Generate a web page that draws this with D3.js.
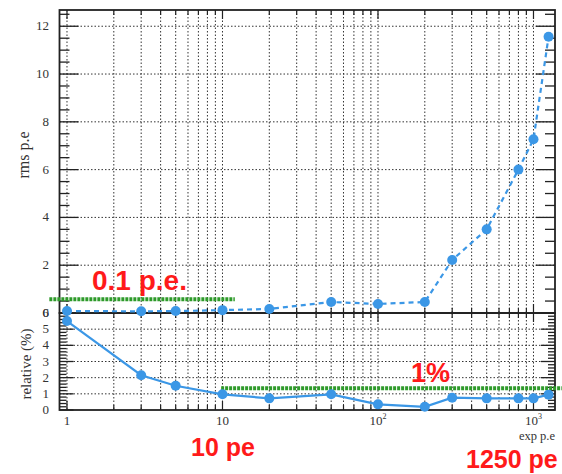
<!DOCTYPE html>
<html>
<head>
<meta charset="utf-8">
<script src="https://cdn.jsdelivr.net/npm/d3@7/dist/d3.min.js"></script>
<style>
  html, body { margin: 0; padding: 0; background: #fff; }
  svg { display: block; }
</style>
</head>
<body>
<svg id="chart" width="562" height="474"></svg>
<script>
// Expected photo-electrons per point
const expPE = [1, 3, 5, 10, 20, 50, 100, 200, 300, 500, 800, 1000, 1250];
// RMS spread in photo-electrons (upper pad)
const rmsPE = [0.08, 0.07, 0.08, 0.12, 0.17, 0.46, 0.38, 0.46, 2.22, 3.5, 6.0, 7.27, 11.56];
// Relative spread in percent (lower pad)
const relativePct = [5.5, 2.15, 1.5, 0.97, 0.72, 0.97, 0.35, 0.2, 0.76, 0.72, 0.72, 0.72, 0.95];

const topTicks = [0, 2, 4, 6, 8, 10, 12];
const bottomTicks = [0, 1, 2, 3, 4, 5, 6];
const xTickLabels = [
  { v: 1, base: "1", sup: "" },
  { v: 10, base: "10", sup: "" },
  { v: 100, base: "10", sup: "2" },
  { v: 1000, base: "10", sup: "3" }
];
// Threshold markers: level and x-extent
const thrTop = { level: 0.58, from: 0.77, to: 12 };
const thrBottom = { level: 1.35, from: 9.8, to: 1520 };

const svg = d3.select("#chart");
const L = 59.5, R = 555, T = 10, MID = 313, B = 410;

const x = d3.scaleLog().domain([0.895, 1375]).range([L, R]);
const yTop = d3.scaleLinear().domain([0, 12.68]).range([MID, T]);
const yBot = d3.scaleLinear().domain([0, 6]).range([B, MID]);

const blue = "#3b97e6";
const gridCol = "#333";

// log grid values 1..9 per decade
const logVals = [];
for (let d = 1; d <= 1000; d *= 10)
  for (let m = 1; m <= 9; m++) {
    const v = m * d;
    if (v >= 0.9 && v <= 1375) logVals.push(v);
  }

function pad(yScale, y0, y1, yMajor, yMinorStep, majLen, minLen) {
  const g = svg.append("g");
  // vertical dotted grid
  g.selectAll("line.vg").data(logVals).join("line")
    .attr("x1", d => x(d)).attr("x2", d => x(d))
    .attr("y1", y0).attr("y2", y1)
    .attr("stroke", gridCol).attr("stroke-width", 1)
    .attr("stroke-dasharray", "1.5,2");
  // horizontal dotted grid at majors
  g.selectAll("line.hg").data(yMajor.filter(v => yScale(v) < y1 - 1 && yScale(v) > y0 + 1)).join("line")
    .attr("x1", L).attr("x2", R)
    .attr("y1", d => yScale(d)).attr("y2", d => yScale(d))
    .attr("stroke", gridCol).attr("stroke-width", 1)
    .attr("stroke-dasharray", "1.5,2");
  // y ticks left and right
  const dom = yScale.domain();
  const minors = d3.range(dom[0], dom[1] + 1e-6, yMinorStep);
  minors.forEach(v => {
    const isMaj = yMajor.some(m => Math.abs(m - v) < 1e-6);
    const len = isMaj ? majLen : minLen;
    g.append("line").attr("x1", L).attr("x2", L + len)
      .attr("y1", yScale(v)).attr("y2", yScale(v))
      .attr("stroke", "#222").attr("stroke-width", 1.3);
    g.append("line").attr("x1", R).attr("x2", R - len)
      .attr("y1", yScale(v)).attr("y2", yScale(v))
      .attr("stroke", "#222").attr("stroke-width", 1.3);
  });
  // x ticks top and bottom
  logVals.forEach(v => {
    const isMaj = [1, 10, 100, 1000].includes(v);
    const len = isMaj ? 9 : 5;
    g.append("line").attr("x1", x(v)).attr("x2", x(v))
      .attr("y1", y0).attr("y2", y0 + len)
      .attr("stroke", "#222").attr("stroke-width", 1.2);
    g.append("line").attr("x1", x(v)).attr("x2", x(v))
      .attr("y1", y1).attr("y2", y1 - len)
      .attr("stroke", "#222").attr("stroke-width", 1.2);
  });
  // frame
  g.append("rect").attr("x", L).attr("y", y0)
    .attr("width", R - L).attr("height", y1 - y0)
    .attr("fill", "none").attr("stroke", "#222").attr("stroke-width", 1.8);
  // tick labels
  g.selectAll("text.yl").data(yMajor).join("text")
    .attr("x", 49).attr("y", d => yScale(d) + 4)
    .attr("text-anchor", "end")
    .attr("font-family", "Liberation Serif, serif")
    .attr("font-size", 13).attr("fill", "#333")
    .text(d => d);
  return g;
}

pad(yTop, T, MID, topTicks, 0.5, 19, 10);
pad(yBot, MID, B, bottomTicks, 0.2, 14, 7);

// threshold guide lines
function threshold(t, yScale) {
  svg.append("line")
    .attr("x1", x(t.from)).attr("x2", x(t.to))
    .attr("y1", yScale(t.level)).attr("y2", yScale(t.level))
    .attr("stroke", "#2e9a2a").attr("stroke-width", 4)
    .attr("stroke-dasharray", "3,1");
}
threshold(thrTop, yTop);
threshold(thrBottom, yBot);

// upper pad: rms, dashed
const pts = expPE.map((v, i) => ({ x: v, rms: rmsPE[i], rel: relativePct[i] }));
svg.append("path").datum(pts)
  .attr("d", d3.line().x(d => x(d.x)).y(d => yTop(d.rms)))
  .attr("fill", "none").attr("stroke", blue).attr("stroke-width", 2.2)
  .attr("stroke-dasharray", "5,4");
svg.selectAll("circle.top").data(pts).join("circle")
  .attr("cx", d => x(d.x)).attr("cy", d => yTop(d.rms)).attr("r", 5)
  .attr("fill", blue);

// lower pad: relative, solid
svg.append("path").datum(pts)
  .attr("d", d3.line().x(d => x(d.x)).y(d => yBot(d.rel)))
  .attr("fill", "none").attr("stroke", blue).attr("stroke-width", 2.2);
svg.selectAll("circle.bot").data(pts).join("circle")
  .attr("cx", d => x(d.x)).attr("cy", d => yBot(d.rel)).attr("r", 5)
  .attr("fill", blue);

// x tick labels
xTickLabels.forEach(t => {
  const txt = svg.append("text")
    .attr("x", x(t.v)).attr("y", 425)
    .attr("text-anchor", "middle")
    .attr("font-family", "Liberation Serif, serif")
    .attr("font-size", 13).attr("fill", "#333");
  txt.append("tspan").text(t.base);
  if (t.sup) txt.append("tspan").attr("dy", -6).attr("font-size", 8).text(t.sup);
});
svg.append("text").attr("x", 555).attr("y", 440).attr("text-anchor", "end")
  .attr("font-family", "Liberation Serif, serif").attr("font-size", 12.5)
  .attr("fill", "#333").text("exp p.e");

// axis titles
svg.append("text").attr("transform", "translate(29,155) rotate(-90)")
  .attr("text-anchor", "middle").attr("font-family", "Liberation Serif, serif")
  .attr("font-size", 16).attr("fill", "#333").text("rms p.e");
svg.append("text").attr("transform", "translate(31,364) rotate(-90)")
  .attr("text-anchor", "middle").attr("font-family", "Liberation Serif, serif")
  .attr("font-size", 15).attr("fill", "#333").text("relative (%)");

// red annotations
const ann = [
  { t: "0.1 p.e.", x: 92, y: 290, s: 28 },
  { t: "1%", x: 411, y: 382, s: 27 },
  { t: "10 pe", x: 191, y: 456, s: 25 },
  { t: "1250 pe", x: 466, y: 468, s: 25 }
];
svg.selectAll("text.ann").data(ann).join("text")
  .attr("x", d => d.x).attr("y", d => d.y)
  .attr("font-family", "Liberation Sans, Arial, sans-serif")
  .attr("font-weight", "bold").attr("font-size", d => d.s)
  .attr("fill", "#ff1a1a").text(d => d.t);
</script>
</body>
</html>
